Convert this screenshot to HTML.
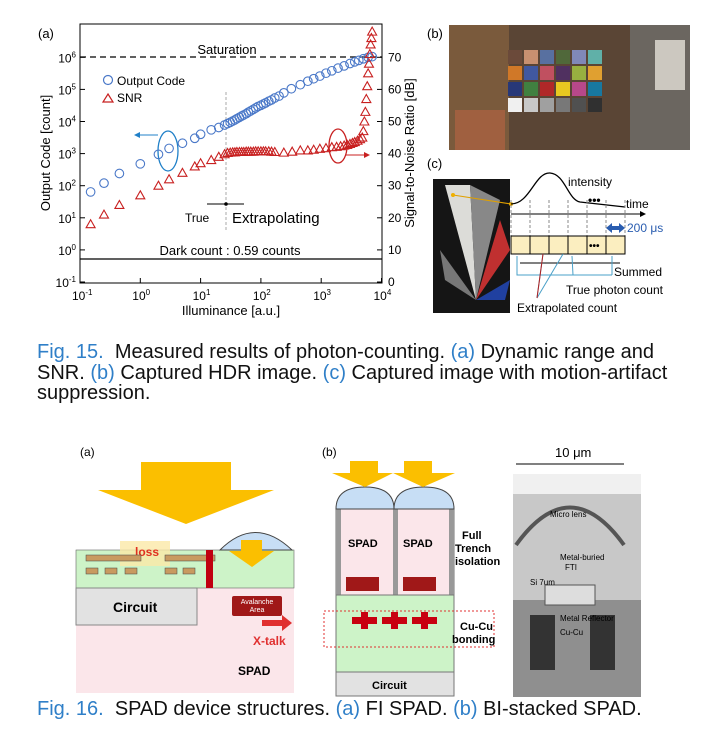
<!DOCTYPE html>
<html><head><meta charset="utf-8"><style>
body{margin:0;background:#fff;width:715px;height:743px;overflow:hidden;font-family:"Liberation Sans",sans-serif;}
.cap{position:absolute;left:37px;font-size:20px;color:#111;line-height:20.5px;width:650px}
.cap span{color:#2f7fc8}
</style></head><body>
<svg id="chart" width="715" height="743" style="position:absolute;left:0;top:0" font-family="Liberation Sans, sans-serif">
<g id="axes"></g><g id="marks"></g>
<g>
<text x="427" y="38" font-size="13">(b)</text>
<rect x="449" y="25" width="241" height="125" fill="#5a4535"/>
<rect x="449" y="25" width="60" height="125" fill="#7a5a3c"/>
<rect x="630" y="25" width="60" height="125" fill="#6b6660"/>
<rect x="655" y="40" width="30" height="50" fill="#ccc8c0"/>
<rect x="455" y="110" width="50" height="40" fill="#a06040"/>
<g id="checker"></g>
</g>
<g>
<text x="427" y="168" font-size="13">(c)</text>
<rect x="433" y="179" width="77" height="134" fill="#151515"/>
<polygon points="445,185 470,185 476,300" fill="#dcdcd8"/>
<polygon points="470,185 500,200 476,300" fill="#888"/>
<polygon points="500,220 510,250 476,300" fill="#c03030"/>
<polygon points="476,300 510,280 505,300" fill="#2040a0"/>
<polygon points="476,300 440,250 445,280" fill="#777"/>
<line x1="453" y1="195" x2="511" y2="204" stroke="#e0a000"/>
<circle cx="453" cy="195" r="2" fill="#f0b000"/><circle cx="511" cy="204" r="2" fill="#f0b000"/>
<path d="M511,204 C530,204 535,172 550,173 C565,174 568,200 580,202 L625,207" fill="none" stroke="#000" stroke-width="1.3"/>
<text x="568" y="186" font-size="12">intensity</text>
<text x="626" y="208" font-size="12">time</text>
<text x="588" y="204" font-size="12" font-weight="bold">•••</text>
<line x1="511" y1="214" x2="640" y2="214" stroke="#000"/><polygon points="640,211 646,214 640,217"/>
<g stroke="#888" stroke-dasharray="3,2">
<line x1="511" y1="200" x2="511" y2="236"/><line x1="530" y1="200" x2="530" y2="236"/><line x1="549" y1="200" x2="549" y2="236"/><line x1="568" y1="200" x2="568" y2="236"/><line x1="587" y1="200" x2="587" y2="236"/><line x1="606" y1="200" x2="606" y2="236"/><line x1="625" y1="200" x2="625" y2="236"/></g>
<polygon points="606,228 612,223 612,226 619,226 619,223 625,228 619,233 619,230 612,230 612,233" fill="#2a5db0"/>
<text x="627" y="232" font-size="12" fill="#2a5db0">200 μs</text>
<g fill="#fbeec0" stroke="#000"><rect x="511" y="236" width="19" height="18"/><rect x="530" y="236" width="19" height="18"/><rect x="549" y="236" width="19" height="18"/><rect x="568" y="236" width="19" height="18"/><rect x="587" y="236" width="19" height="18"/><rect x="606" y="236" width="19" height="18"/></g>
<text x="589" y="249" font-size="10" font-weight="bold">•••</text>
<line x1="520" y1="263" x2="620" y2="263" stroke="#000"/>
<path d="M517,256 L517,275 L612,275 M543,254 L537,298 L563,254 M572,256 L573,275 M612,256 L612,275" fill="none" stroke="#4aa0c8"/>
<path d="M543,254 L537,298" stroke="#b02020"/>
<text x="614" y="276" font-size="12">Summed</text>
<text x="566" y="294" font-size="12">True photon count</text>
<text x="517" y="312" font-size="12">Extrapolated count</text>
</g>
<g>
<text x="80" y="456" font-size="12">(a)</text>
<rect x="76" y="550" width="218" height="143" fill="#fbe6ea"/>
<rect x="76" y="550" width="218" height="38" fill="#cdf3c8" stroke="#666" stroke-width="0.6"/>
<rect x="76" y="588" width="121" height="37" fill="#e2e2e2" stroke="#888"/>
<text x="113" y="612" font-size="14" font-weight="bold">Circuit</text>
<rect x="120" y="541" width="50" height="25" fill="#fbe8a8" opacity="0.8"/>
<text x="135" y="556" font-size="12" font-weight="bold" fill="#e03020">loss</text>
<g fill="#c89a60" stroke="#444" stroke-width="0.5"><rect x="86" y="555" width="55" height="6"/><rect x="165" y="555" width="50" height="6"/><rect x="86" y="568" width="12" height="6"/><rect x="105" y="568" width="12" height="6"/><rect x="125" y="568" width="12" height="6"/><rect x="165" y="568" width="12" height="6"/><rect x="183" y="568" width="12" height="6"/></g>
<rect x="206" y="550" width="7" height="38" fill="#c00010"/>
<path d="M220,550 Q255,515 292,550Z" fill="#c7def5" stroke="#444"/>
<polygon points="141,462 231,462 231,490 274,490 186,524 98,490 141,490" fill="#fbbf00"/>
<polygon points="241,540 262,540 262,551 274,551 252,567 229,551 241,551" fill="#fbbf00"/>
<rect x="232" y="596" width="50" height="20" rx="2" fill="#a01818"/>
<text x="257" y="604" font-size="7" fill="#fff" text-anchor="middle">Avalanche</text><text x="257" y="612" font-size="7" fill="#fff" text-anchor="middle">Area</text>
<polygon points="262,620 282,620 282,615 292,623 282,631 282,626 262,626" fill="#e03030"/>
<text x="253" y="645" font-size="12" font-weight="bold" fill="#e03030">X-talk</text>
<text x="238" y="675" font-size="12" font-weight="bold">SPAD</text>
</g>
<g>
<text x="322" y="456" font-size="12">(b)</text>
<rect x="336" y="509" width="118" height="86" fill="#fbe6ea" stroke="#777"/>
<rect x="336" y="509" width="5" height="86" fill="#999"/><rect x="393" y="509" width="5" height="86" fill="#999"/><rect x="449" y="509" width="5" height="86" fill="#999"/>
<path d="M336,509 Q336,487 365,487 Q394,487 394,509Z M394,509 Q394,487 424,487 Q454,487 454,509Z" fill="#c7def5" stroke="#444"/>
<polygon points="350,461 378,461 378,473 393,473 365,487 332,473 350,473" fill="#fbbf00"/>
<polygon points="404,461 432,461 432,473 455,473 423,487 393,473 404,473" fill="#fbbf00"/>
<text x="348" y="547" font-size="11" font-weight="bold">SPAD</text><text x="403" y="547" font-size="11" font-weight="bold">SPAD</text>
<rect x="346" y="577" width="33" height="14" fill="#a01818"/><rect x="403" y="577" width="33" height="14" fill="#a01818"/>
<rect x="336" y="595" width="118" height="77" fill="#cdf3c8" stroke="#777"/>
<rect x="336" y="672" width="118" height="24" fill="#e2e2e2" stroke="#777"/>
<text x="372" y="689" font-size="11" font-weight="bold">Circuit</text>
<g fill="#c80010"><rect x="352" y="617" width="25" height="7"/><rect x="361" y="612" width="7" height="17"/><rect x="382" y="617" width="25" height="7"/><rect x="391" y="612" width="7" height="17"/><rect x="412" y="617" width="25" height="7"/><rect x="421" y="612" width="7" height="17"/></g>
<rect x="324" y="611" width="170" height="36" fill="none" stroke="#e03030" stroke-dasharray="2,2"/>
<text x="462" y="539" font-size="11" font-weight="bold">Full</text>
<text x="455" y="552" font-size="11" font-weight="bold">Trench</text>
<text x="455" y="565" font-size="11" font-weight="bold">isolation</text>
<text x="460" y="630" font-size="11" font-weight="bold">Cu-Cu</text><text x="452" y="643" font-size="11" font-weight="bold">bonding</text>
</g>
<g>
<text x="555" y="457" font-size="13">10 μm</text>
<line x1="516" y1="464" x2="624" y2="464" stroke="#000"/>
<rect x="513" y="474" width="128" height="223" fill="#c8c8c8"/>
<rect x="513" y="474" width="128" height="20" fill="#f0f0f0"/>
<path d="M516,545 Q570,470 624,545" fill="none" stroke="#555" stroke-width="4"/>
<rect x="513" y="600" width="128" height="97" fill="#8f8f8f"/>
<rect x="530" y="615" width="25" height="55" fill="#333"/><rect x="590" y="615" width="25" height="55" fill="#333"/>
<rect x="545" y="585" width="50" height="20" fill="#ddd" stroke="#555"/>
<text x="550" y="517" font-size="8">Micro lens</text><text x="560" y="560" font-size="8">Metal-buried</text><text x="565" y="570" font-size="8">FTI</text><text x="530" y="585" font-size="8">Si 7um</text><text x="560" y="621" font-size="8">Metal Reflector</text><text x="560" y="635" font-size="8">Cu-Cu</text>
</g>
</svg>
<div class="cap" style="top:342px"><span>Fig. 15.</span> &nbsp;Measured results of photon-counting. <span>(a)</span> Dynamic range and SNR. <span>(b)</span> Captured HDR image. <span>(c)</span> Captured image with motion-artifact suppression.</div>
<div class="cap" style="top:699px"><span>Fig. 16.</span> &nbsp;SPAD device structures. <span>(a)</span> FI SPAD. <span>(b)</span> BI-stacked SPAD.</div>
<script>
const codeX=[0.15,0.25,0.45,1,2,3,5,8,10,15,20,25,28,31,34,37,40,44,48,52,57,62,68,75,82,90,100,110,120,135,150,170,200,240,320,450,600,750,950,1200,1500,1900,2400,3000,3600,4200,5000,6000,7000];
const codeY=[64,120,240,480,950,1450,2100,3000,4000,5500,6500,7800,8600,9400,10300,11200,12200,13500,14800,16000,17500,19500,21500,24000,26500,29500,32000,35000,38000,43000,47000,54000,62000,78000,105000,140000,180000,215000,260000,320000,380000,460000,540000,640000,720000,800000,900000,1000000,1050000];
const snrX=[0.15,0.25,0.45,1,2,3,5,8,10,15,20,25,28,31,34,37,40,44,48,52,57,62,68,75,82,90,100,110,120,135,150,170,240,330,450,600,750,950,1200,1500,1800,2100,2400,2700,3000,3300,3600,4000,4400,4800,5000,5200,5400,5600,5800,6000,6200,6400,6600,6800,7000];
const snrY=[18,21,24,27,30,32,34,36,37,38,39,39.8,40.2,40.3,40.4,40.4,40.5,40.5,40.5,40.5,40.6,40.6,40.6,40.6,40.7,40.7,40.7,40.7,40.7,40.7,40.6,40.5,40.3,40.6,41,41,41.2,41.5,41.7,42,42.1,42.3,42.5,42.7,43,43.3,43.6,44,44.5,45,47,50,53,57,61,65,68,71,74,76,78];
const yTicks=[-1,0,1,2,3,4,5,6];const xTicks=[-1,0,1,2,3,4];const rTicks=[0,10,20,30,40,50,60,70];
const NS='http://www.w3.org/2000/svg';
const xs=v=>80+(Math.log10(v)+1)*60.3, ys=v=>282-(Math.log10(v)+1)*32.1, yr=d=>282-d*3.21;
const ax=document.getElementById('axes'),mk=document.getElementById('marks');
function el(t,a,p,txt){const e=document.createElementNS(NS,t);for(const k in a)e.setAttribute(k,a[k]);if(txt!==undefined)e.innerHTML=txt;p.appendChild(e);return e;}
el('text',{x:38,y:38,'font-size':13},ax,'(a)');
el('rect',{x:80,y:24,width:302,height:259,fill:'none',stroke:'#000'},ax);
yTicks.forEach(t=>{const y=282-(t+1)*32.1;const l=el('text',{x:76,y:y+5,'font-size':12,'text-anchor':'end'},ax,'10<tspan dy="-5" font-size="8">'+t+'</tspan>');el('line',{x1:80,x2:85,y1:y,y2:y,stroke:'#000'},ax);});
xTicks.forEach(t=>{const x=80+(t+1)*60.3;const l=el('text',{x:x-8,y:300,'font-size':12},ax,'10<tspan dy="-5" font-size="8">'+t+'</tspan>');el('line',{x1:x,x2:x,y1:283,y2:278,stroke:'#000'},ax);});
rTicks.forEach(t=>{const y=yr(t);const l=el('text',{x:388,y:y+4,'font-size':12},ax,t);el('line',{x1:382,x2:377,y1:y,y2:y,stroke:'#000'},ax);});
el('text',{x:231,y:315,'font-size':13,'text-anchor':'middle'},ax,'Illuminance [a.u.]');
el('text',{x:0,y:0,'font-size':13,'text-anchor':'middle',transform:'translate(50,153) rotate(-90)'},ax,'Output Code [count]');
el('text',{x:0,y:0,'font-size':13,'text-anchor':'middle',transform:'translate(414,153) rotate(-90)'},ax,'Signal-to-Noise Ratio [dB]');
el('line',{x1:80,x2:382,y1:57,y2:57,stroke:'#000','stroke-width':1.3,'stroke-dasharray':'6,4'},ax);
el('text',{x:227,y:54,'font-size':13,'text-anchor':'middle'},ax,'Saturation');
el('line',{x1:80,x2:382,y1:259,y2:259,stroke:'#000','stroke-width':1.3},ax);
el('text',{x:230,y:255,'font-size':13,'text-anchor':'middle'},ax,'Dark count : 0.59 counts');
el('line',{x1:226,x2:226,y1:92,y2:231,stroke:'#aaa','stroke-dasharray':'3,2'},ax);
el('line',{x1:207,x2:244,y1:204,y2:204,stroke:'#000'},ax);el('circle',{cx:226,cy:204,r:1.8},ax);
el('text',{x:185,y:222,'font-size':12},ax,'True');el('text',{x:232,y:223,'font-size':15},ax,'Extrapolating');
el('circle',{cx:108,cy:80,r:4.5,fill:'none',stroke:'#4a78c8','stroke-width':1.2},ax);el('text',{x:117,y:85,'font-size':12},ax,'Output Code');
el('polygon',{points:'108,94 113,102 103,102',fill:'none',stroke:'#c82020','stroke-width':1.2},ax);el('text',{x:117,y:102,'font-size':12},ax,'SNR');
el('ellipse',{cx:168,cy:151,rx:10,ry:20,fill:'none',stroke:'#2080c8','stroke-width':1.3},ax);el('line',{x1:158,x2:138,y1:135,y2:135,stroke:'#2080c8'},ax);el('polygon',{points:'134,135 140,132 140,138',fill:'#2080c8'},ax);
el('ellipse',{cx:338,cy:146,rx:9,ry:17,fill:'none',stroke:'#c82020','stroke-width':1.3},ax);el('line',{x1:346,x2:366,y1:155,y2:155,stroke:'#c82020'},ax);el('polygon',{points:'370,155 364,152 364,158',fill:'#c82020'},ax);
codeX.forEach((v,i)=>{const c=el('circle',{cx:xs(v),cy:ys(codeY[i]),r:4.3,fill:'none',stroke:'#4a78c8','stroke-width':1.1},mk);});
snrX.forEach((v,i)=>{const x=xs(v),y=yr(snrY[i]);const p=el('polygon',{points:`${x},${y-4.5} ${x+4.5},${y+3.5} ${x-4.5},${y+3.5}`,fill:'none',stroke:'#c82020','stroke-width':1.1},mk);});
const ck=document.getElementById('checker');const cols=['#6b4a3a','#c89070','#5870a0','#50683a','#8088b8','#60b0a8','#d07828','#4058a0','#c05060','#503060','#98b040','#e0a030','#283878','#408040','#b02828','#e8c820','#b8488a','#1878a0','#f0f0f0','#c8c8c8','#a0a0a0','#787878','#505050','#303030'];
cols.forEach((c,i)=>{el('rect',{x:508+(i%6)*16,y:50+Math.floor(i/6)*16,width:14,height:14,fill:c},ck);});
</script>
</body></html>
